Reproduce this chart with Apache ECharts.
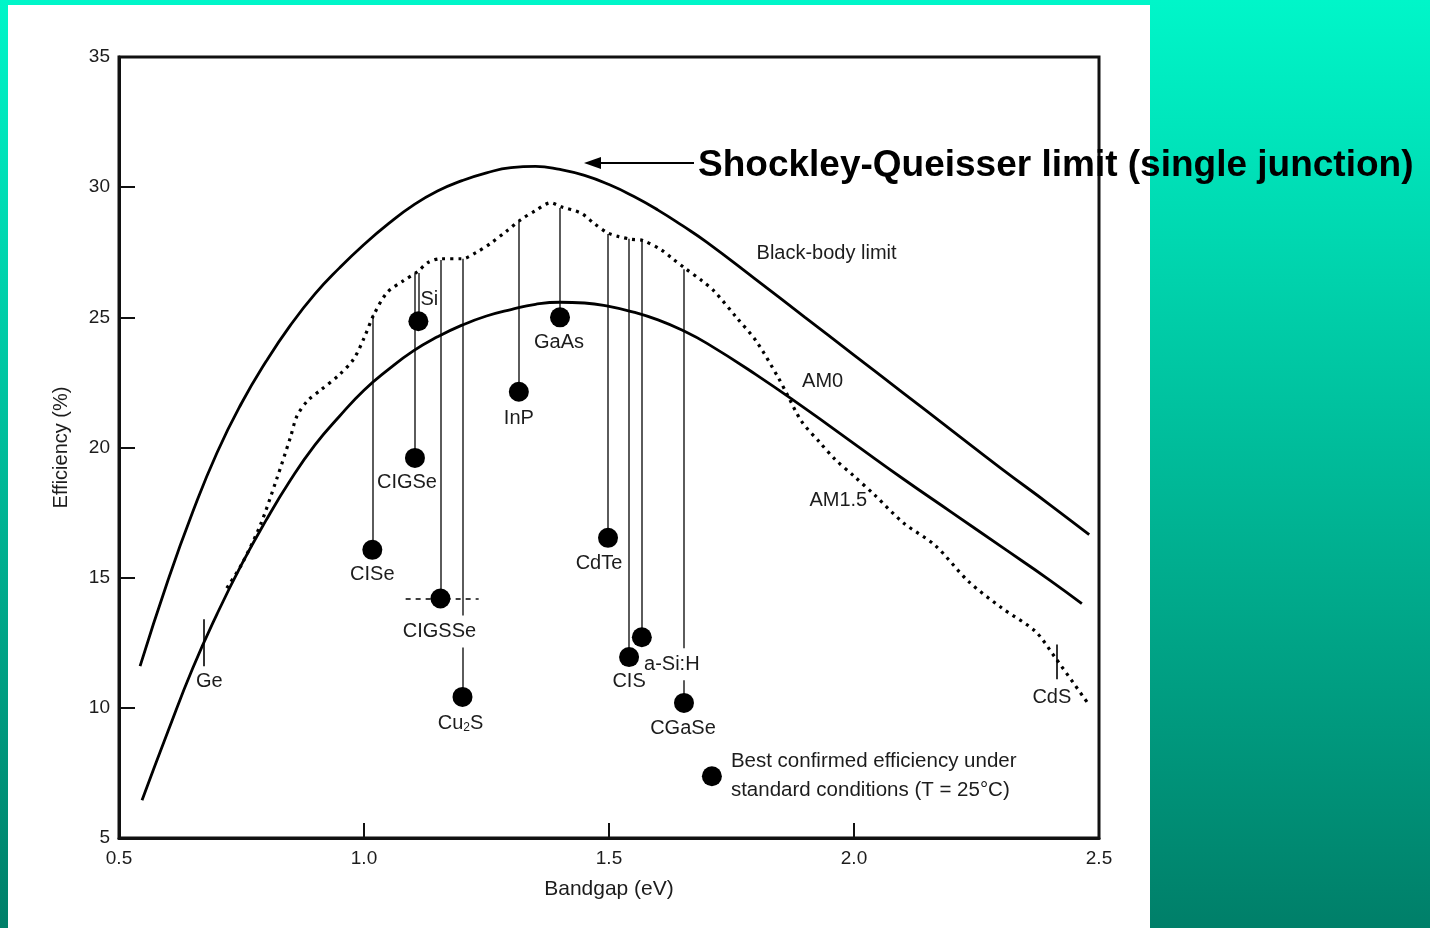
<!DOCTYPE html>
<html><head><meta charset="utf-8">
<script src="https://cdn.jsdelivr.net/npm/echarts@6/dist/echarts.min.js"></script>
<style>html,body{margin:0;padding:0;}#c{width:1430px;height:928px;}</style>
</head><body><div id="c"></div>
<script>
// ---- Data (bandgap in eV, efficiency in %) ----
const blackBodyGap = [0.543,0.60,0.65,0.70,0.75,0.80,0.85,0.90,0.95,1.00,1.05,1.10,1.15,1.20,1.25,1.30,1.35,1.40,1.45,1.50,1.55,1.60,1.65,1.70,1.80,1.90,2.00,2.10,2.20,2.30,2.40,2.48];
const blackBodyEff = [11.6,14.9,17.5,19.8,21.7,23.3,24.7,25.9,26.9,27.8,28.6,29.3,29.85,30.25,30.55,30.75,30.8,30.68,30.45,30.1,29.65,29.12,28.52,27.88,26.45,25.0,23.55,22.1,20.65,19.2,17.8,16.65];

const am0Gap = [0.547,0.60,0.65,0.70,0.75,0.80,0.85,0.90,0.95,1.00,1.05,1.10,1.15,1.20,1.25,1.30,1.35,1.40,1.45,1.50,1.55,1.60,1.65,1.70,1.80,1.90,2.00,2.10,2.20,2.30,2.40,2.465];
const am0Eff = [6.45,9.1,11.5,13.6,15.5,17.2,18.75,20.1,21.2,22.2,23.0,23.7,24.25,24.7,25.05,25.3,25.5,25.58,25.55,25.42,25.2,24.9,24.5,24.0,22.8,21.5,20.15,18.8,17.5,16.2,14.9,14.0];

const am15Gap = [0.72,0.75,0.788,0.822,0.85,0.863,0.885,0.911,0.95,0.979,1.00,1.02,1.047,1.08,1.109,1.13,1.156,1.20,1.23,1.259,1.29,1.32,1.35,1.381,1.402,1.443,1.47,1.497,1.52,1.545,1.569,1.606,1.63,1.654,1.69,1.715,1.76,1.80,1.845,1.862,1.893,1.93,1.961,2.00,2.043,2.101,2.165,2.234,2.302,2.37,2.411,2.479];
const am15Eff = [14.6,15.5,17.0,18.8,20.4,21.2,21.8,22.2,22.8,23.4,24.2,25.1,25.95,26.4,26.75,27.1,27.25,27.25,27.5,27.85,28.3,28.75,29.1,29.4,29.25,29.0,28.6,28.25,28.1,28.0,27.95,27.6,27.25,26.9,26.4,26.0,25.0,24.1,22.7,22.1,21.0,20.2,19.55,18.9,18.16,17.1,16.25,14.85,13.83,12.94,11.92,10.13];

const materialNames = ['CISe','Si','CIGSe','CIGSSe','Cu2S','InP','GaAs','CdTe','CIS','a-Si:H','CGaSe'];
const materialGap   = [1.017,1.111,1.104,1.156,1.201,1.316,1.400,1.498,1.541,1.567,1.653];
const materialEff   = [16.07,24.85,19.6,14.2,10.42,22.14,25.0,16.53,11.95,12.71,10.19];
const materialLimit = [25.1,26.7,26.7,27.2,27.25,28.7,29.2,28.2,28.02,27.94,26.85];

const cigsseSpread = [1.085,1.234];   // dashed range at CIGSSe efficiency

const edgeNames = ['Ge','CdS'];
const edgeGap = [0.672,2.414];
const edgeLow = [11.6,11.1];
const edgeHigh = [13.4,12.43];

const curveNames = ['Black-body limit','AM0','AM1.5'];
const curveLabelGap = [1.944,1.936,1.968];
const curveLabelEff = [27.44,22.52,17.98];

const legendGap = [1.71];
const legendEff = [7.37];
const legendText = 'Best confirmed efficiency under\nstandard conditions (T = 25°C)';

const xTicks = [0.5,1.0,1.5,2.0,2.5];
const yTicks = [5,10,15,20,25,30,35];

// ---- style-only placement tweaks for labels ----
const labelOffset = {
  'CISe':[0,0],'Si':[11,-47],'CIGSe':[-8,0],'CIGSSe':[-1,2],'Cu2S':[-2,1],'InP':[0,2],
  'GaAs':[-1,0],'CdTe':[-9,1],'CIS':[0,-1],'a-Si:H':[30,-4],'CGaSe':[-1,1]
};
const labelMask = {'CIGSSe':true,'a-Si:H':true};

const FONT = '"Liberation Sans", Arial, Helvetica, sans-serif';
const TXT = '#1c1c1c';

const zip = (a,b)=>a.map((v,i)=>[v,b[i]]);

const dropLines = materialNames.map((n,i)=>({coords:[[materialGap[i],materialLimit[i]],[materialGap[i],materialEff[i]]]}));
dropLines.push({coords:[[cigsseSpread[0],materialEff[3]],[cigsseSpread[1],materialEff[3]]],lineStyle:{type:[5,5],width:1.6,color:'#111'}});
const edgeLines = edgeNames.map((n,i)=>({coords:[[edgeGap[i],edgeLow[i]],[edgeGap[i],edgeHigh[i]]]}));

const dotData = materialNames.map((n,i)=>{
  const lab = {offset:labelOffset[n]};
  if (labelMask[n]) { lab.backgroundColor='#fff'; lab.padding=[6,2,6,2]; }
  if (n==='Cu2S') { lab.formatter='Cu{sub|2}S'; }
  return {name:n,value:[materialGap[i],materialEff[i]],label:lab};
});

const chart = echarts.init(document.getElementById('c'));
chart.setOption({
  animation:false,
  backgroundColor:{type:'linear',x:0,y:0,x2:0,y2:1,colorStops:[{offset:0,color:'#00f6c9'},{offset:1,color:'#007f69'}]},
  grid:{left:119,right:331,top:57,bottom:90,show:true,borderColor:'#111',borderWidth:3,backgroundColor:'transparent'},
  xAxis:{type:'value',min:xTicks[0],max:xTicks[xTicks.length-1],interval:0.5,
    name:'Bandgap (eV)',nameLocation:'middle',nameGap:41,
    nameTextStyle:{fontFamily:FONT,fontSize:21,color:TXT},
    axisLine:{show:true,onZero:false,lineStyle:{color:'#111',width:3}},
    axisTick:{show:true,inside:true,length:15,lineStyle:{color:'#111',width:2}},
    axisLabel:{margin:11,fontFamily:FONT,fontSize:19,color:TXT,formatter:v=>v.toFixed(1)},
    splitLine:{show:false}},
  yAxis:{type:'value',min:yTicks[0],max:yTicks[yTicks.length-1],interval:5,
    name:'Efficiency (%)',nameLocation:'middle',nameGap:48,nameRotate:90,
    nameTextStyle:{fontFamily:FONT,fontSize:20,color:TXT},
    axisLine:{show:true,onZero:false,lineStyle:{color:'#111',width:3}},
    axisTick:{show:true,inside:true,length:16,lineStyle:{color:'#111',width:2}},
    axisLabel:{margin:9,fontFamily:FONT,fontSize:19,color:TXT},
    splitLine:{show:false}},
  graphic:[
    {type:'rect',z:-100,shape:{x:8,y:5,width:1142,height:923},style:{fill:'#ffffff'}},
    {type:'line',z:100,shape:{x1:598,y1:163,x2:694,y2:163},style:{stroke:'#000',lineWidth:2}},
    {type:'polygon',z:100,shape:{points:[[584,163],[601,157],[601,169]]},style:{fill:'#000'}},
    {type:'text',z:100,x:698,y:166,style:{text:'Shockley-Queisser limit (single junction)',fill:'#000',
      font:'bold 37px '+FONT,textVerticalAlign:'middle',textAlign:'left'}}
  ],
  series:[
    {type:'line',name:'Black-body limit',data:zip(blackBodyGap,blackBodyEff),smooth:true,showSymbol:false,
      lineStyle:{color:'#000',width:2.8},z:2},
    {type:'line',name:'AM0',data:zip(am0Gap,am0Eff),smooth:true,showSymbol:false,
      lineStyle:{color:'#000',width:2.8},z:2},
    {type:'line',name:'AM1.5',data:zip(am15Gap,am15Eff),smooth:0.3,showSymbol:false,
      lineStyle:{color:'#000',width:3.2,type:[3,5]},z:2},
    {type:'lines',coordinateSystem:'cartesian2d',data:dropLines,z:1,
      lineStyle:{color:'#333',width:1.6,opacity:1}},
    {type:'lines',coordinateSystem:'cartesian2d',data:edgeLines,z:1,
      lineStyle:{color:'#333',width:2,opacity:1}},
    {type:'scatter',data:dotData,symbol:'circle',symbolSize:20,itemStyle:{color:'#000',opacity:1},z:5,
      label:{show:true,position:'bottom',distance:5,formatter:'{b}',fontFamily:FONT,fontSize:20,color:TXT,
        rich:{sub:{fontFamily:FONT,fontSize:12,color:TXT,padding:[9,0,0,0]}}}},
    {type:'scatter',data:edgeNames.map((n,i)=>({name:n,value:[edgeGap[i],edgeLow[i]],
        label:{offset:i===0?[6,0]:[-5,3]}})),
      symbolSize:1,itemStyle:{color:'rgba(0,0,0,0)',opacity:1},z:5,
      label:{show:true,position:'bottom',distance:5,formatter:'{b}',fontFamily:FONT,fontSize:20,color:TXT}},
    {type:'scatter',data:curveNames.map((n,i)=>({name:n,value:[curveLabelGap[i],curveLabelEff[i]]})),
      symbolSize:1,itemStyle:{color:'rgba(0,0,0,0)',opacity:1},z:5,
      label:{show:true,position:'inside',formatter:'{b}',fontFamily:FONT,fontSize:20,color:TXT}},
    {type:'scatter',data:zip(legendGap,legendEff),symbolSize:20,itemStyle:{color:'#000',opacity:1},z:5,
      label:{show:true,position:'right',distance:9,formatter:legendText,fontFamily:FONT,fontSize:20.5,
        lineHeight:29,color:TXT,align:'left'}}
  ]
});
</script></body></html>
